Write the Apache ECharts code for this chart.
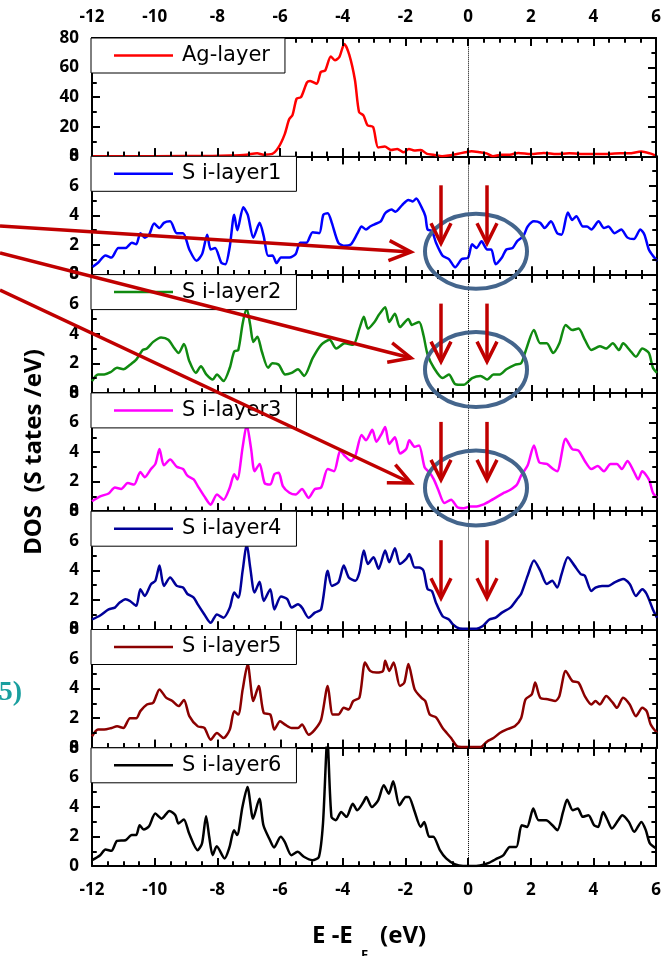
<!DOCTYPE html>
<html>
<head>
<meta charset="utf-8">
<title>Layer-resolved DOS</title>
<script src="https://cdn.jsdelivr.net/npm/echarts@6/dist/echarts.min.js"></script>
<style>
  html, body { margin: 0; padding: 0; background: #fff; }
  #chart { width: 664px; height: 956px; }
</style>
</head>
<body>
<div id="chart"></div>
<script>
// Energy axis (E - E_F, eV) and per-panel y ranges
const energyMin = -12;
const energyMax = 6;
const energyStep = 2;

const panelNames = ['Ag-layer', 'S i-layer1', 'S i-layer2', 'S i-layer3', 'S i-layer4', 'S i-layer5', 'S i-layer6'];
const panelColors = ['#ff0000', '#0000ff', '#108a10', '#ff00ff', '#000099', '#8b0000', '#000000'];
const panelYMax = [80, 8, 8, 8, 8, 8, 8];
const panelYStep = [20, 2, 2, 2, 2, 2, 2];

// Density of states, [energy, states/eV]
const agLayer = [[-12,0],[-10,0.1],[-8.15,0.2],[-7.61,0.5],[-7.07,1.1],[-6.73,2],[-6.53,1.1],[-6.25,1.6],[-6.05,6],[-5.85,15],[-5.71,25],[-5.6,28],[-5.47,39],[-5.33,40],[-5.14,50],[-5.04,51],[-4.83,49],[-4.7,57],[-4.56,58],[-4.38,67.5],[-4.25,65],[-4.11,67],[-3.95,76],[-3.79,68.6],[-3.61,51.6],[-3.48,30],[-3.34,27.7],[-3.21,21],[-3.03,19.8],[-2.87,6],[-2.66,6.6],[-2.46,4.3],[-2.26,5],[-2.05,2.7],[-1.89,5],[-1.72,3.9],[-1.51,4.3],[-1.31,1.6],[-1.11,1.1],[-0.83,0],[-0.63,0.5],[-0.36,1.6],[-0.09,2.7],[0.11,3.4],[0.38,2.7],[0.59,2],[0.79,0],[1.06,1.1],[1.33,1.1],[1.6,2.3],[2.01,1.6],[2.42,2.3],[2.82,1.6],[3.23,2],[3.77,1.6],[4.31,1.6],[4.86,2],[5.13,2],[5.53,3.2],[5.8,2],[6,0.5]];

const siLayer1 = [[-12,0.5],[-11.81,0.8],[-11.57,1.3],[-11.38,1.15],[-11.16,1.8],[-10.93,1.8],[-10.73,2.15],[-10.59,2.05],[-10.46,2.8],[-10.32,2.5],[-10.18,2.7],[-10.02,3.45],[-9.85,3.15],[-9.71,3.5],[-9.51,3.6],[-9.3,2.8],[-9.1,2.8],[-8.9,1.7],[-8.67,0.93],[-8.49,1.4],[-8.33,2.7],[-8.22,1.7],[-8.08,1.8],[-7.88,0.8],[-7.75,0.7],[-7.61,1.9],[-7.47,4.05],[-7.37,3.0],[-7.18,4.55],[-7.04,4.05],[-6.86,2.5],[-6.66,3.5],[-6.53,2.6],[-6.39,1.27],[-6.25,1.3],[-6.12,0.78],[-5.98,1.15],[-5.71,1.15],[-5.51,1.4],[-5.37,2.15],[-5.17,2.15],[-4.97,2.87],[-4.76,2.8],[-4.63,4.05],[-4.49,4.15],[-4.36,3.5],[-4.15,2.15],[-3.95,1.95],[-3.75,2.05],[-3.54,2.8],[-3.41,3.25],[-3.27,3.05],[-3.14,3.25],[-3.0,3.4],[-2.8,3.6],[-2.66,4.15],[-2.46,4.4],[-2.33,4.25],[-2.12,4.7],[-1.92,5.05],[-1.78,4.95],[-1.67,5.15],[-1.51,4.6],[-1.38,3.95],[-1.31,3.05],[-1.17,2.95],[-1.04,2.15],[-0.83,1.27],[-0.63,1.05],[-0.43,0.5],[-0.22,1.05],[-0.02,1.15],[0.11,2.05],[0.25,1.8],[0.41,2.25],[0.59,1.7],[0.72,1.7],[0.86,0.7],[1.06,1.15],[1.2,1.7],[1.4,1.8],[1.54,2.25],[1.74,2.6],[1.88,3.25],[2.08,3.6],[2.28,3.5],[2.42,3.15],[2.62,3.6],[2.82,2.8],[2.96,2.7],[3.16,4.2],[3.3,3.7],[3.43,3.95],[3.64,3.25],[3.77,3.25],[3.91,3.05],[4.14,3.6],[4.31,3.15],[4.45,3.25],[4.65,2.8],[4.86,3.05],[5.06,2.5],[5.26,2.4],[5.47,3.05],[5.6,2.7],[5.74,1.7],[5.87,1.27],[6,0.93]];

const siLayer2 = [[-12,0.8],[-11.81,1.25],[-11.61,1.25],[-11.41,1.4],[-11.2,1.7],[-11.0,1.6],[-10.79,1.9],[-10.59,2.25],[-10.39,2.9],[-10.25,3.0],[-10.05,3.45],[-9.8,3.75],[-9.57,3.6],[-9.37,3.0],[-9.24,2.7],[-9.07,3.3],[-8.9,2.15],[-8.69,1.35],[-8.53,1.8],[-8.36,1.25],[-8.15,0.9],[-8.02,1.25],[-7.81,0.8],[-7.61,1.7],[-7.47,2.8],[-7.34,2.9],[-7.2,4.7],[-7.07,5.7],[-6.96,4.6],[-6.86,3.45],[-6.73,3.8],[-6.59,2.8],[-6.39,1.7],[-6.25,2.0],[-6.05,1.9],[-5.85,1.25],[-5.64,1.35],[-5.44,1.6],[-5.24,1.15],[-4.97,2.35],[-4.7,3.25],[-4.43,3.6],[-4.22,3.0],[-3.95,3.35],[-3.68,3.25],[-3.48,4.35],[-3.34,5.15],[-3.21,4.35],[-3.0,4.8],[-2.87,5.25],[-2.66,5.8],[-2.53,4.8],[-2.35,5.35],[-2.19,4.45],[-1.92,5.0],[-1.81,4.6],[-1.58,4.8],[-1.44,3.9],[-1.31,2.6],[-1.11,1.7],[-0.83,1.0],[-0.63,1.25],[-0.43,0.6],[-0.16,0.55],[0.11,1.0],[0.38,1.15],[0.59,0.9],[0.79,1.25],[0.99,1.25],[1.2,1.6],[1.47,1.9],[1.67,2.0],[1.81,2.8],[2.08,4.25],[2.28,3.35],[2.49,3.35],[2.69,2.7],[2.89,3.35],[3.09,4.6],[3.3,4.25],[3.5,4.35],[3.7,3.6],[3.91,2.9],[4.18,3.15],[4.38,3.0],[4.59,3.35],[4.79,2.9],[4.92,3.35],[5.13,2.9],[5.33,2.45],[5.53,3.0],[5.74,2.7],[5.87,1.7],[6,1.35]];

const siLayer3 = [[-12,0.67],[-11.74,1.0],[-11.47,1.2],[-11.27,1.6],[-11.07,1.5],[-10.86,1.9],[-10.66,1.8],[-10.46,2.65],[-10.32,2.3],[-10.12,2.85],[-9.98,3.2],[-9.85,4.2],[-9.71,3.1],[-9.51,3.5],[-9.3,3.0],[-9.1,2.85],[-8.96,2.4],[-8.76,2.15],[-8.63,1.7],[-8.42,1.0],[-8.22,0.44],[-8.02,1.13],[-7.81,0.78],[-7.61,1.6],[-7.47,2.5],[-7.37,2.15],[-7.2,4.35],[-7.07,5.85],[-6.93,4.2],[-6.82,2.7],[-6.66,3.2],[-6.5,1.9],[-6.32,1.8],[-6.19,2.5],[-6.05,2.6],[-5.92,1.7],[-5.71,1.25],[-5.51,1.13],[-5.31,1.5],[-5.1,0.9],[-4.9,1.5],[-4.7,1.6],[-4.49,2.85],[-4.29,2.7],[-4.09,4.1],[-3.95,3.75],[-3.75,3.4],[-3.61,3.75],[-3.41,5.15],[-3.27,4.8],[-3.07,5.5],[-2.94,4.7],[-2.77,5.25],[-2.66,5.7],[-2.53,4.55],[-2.35,5.0],[-2.19,3.9],[-1.99,4.2],[-1.89,4.8],[-1.72,4.35],[-1.58,4.45],[-1.4,2.95],[-1.24,2.6],[-1.11,2.15],[-0.97,1.45],[-0.77,0.55],[-0.56,0.78],[-0.36,0.27],[-0.16,0.2],[0.05,0.32],[0.25,0.32],[0.45,0.44],[0.66,0.67],[0.93,1.0],[1.13,1.25],[1.33,1.45],[1.54,1.8],[1.67,2.4],[1.88,3.1],[2.08,4.45],[2.25,3.3],[2.49,3.2],[2.69,2.85],[2.82,2.7],[3.09,4.9],[3.3,4.2],[3.5,4.1],[3.7,3.4],[3.91,2.85],[4.11,3.05],[4.31,2.7],[4.52,3.2],[4.72,3.2],[4.88,2.85],[5.06,3.4],[5.26,2.7],[5.4,2.15],[5.53,2.7],[5.74,2.15],[5.87,1.25],[6,0.9]];

const siLayer4 = [[-12,0.68],[-11.74,0.95],[-11.47,1.36],[-11.27,1.48],[-11.13,1.8],[-10.93,2.05],[-10.79,1.93],[-10.59,1.6],[-10.46,2.73],[-10.32,2.27],[-10.12,3.07],[-9.98,3.3],[-9.85,4.32],[-9.71,2.95],[-9.51,3.52],[-9.3,2.95],[-9.1,2.84],[-8.96,2.4],[-8.76,2.16],[-8.63,1.7],[-8.42,1.02],[-8.22,0.45],[-8.02,1.02],[-7.81,0.8],[-7.61,1.48],[-7.47,2.5],[-7.34,2.16],[-7.2,3.98],[-7.07,5.8],[-6.96,4.2],[-6.82,2.5],[-6.66,3.23],[-6.53,1.93],[-6.32,2.73],[-6.19,1.36],[-5.98,2.23],[-5.78,2.05],[-5.64,1.48],[-5.44,1.7],[-5.31,1.48],[-5.1,0.8],[-4.9,1.14],[-4.7,1.36],[-4.49,3.98],[-4.36,2.95],[-4.15,3.18],[-3.98,4.32],[-3.82,3.52],[-3.61,3.3],[-3.48,3.86],[-3.34,5.34],[-3.21,4.43],[-3.03,4.89],[-2.87,4.1],[-2.66,5.34],[-2.53,4.55],[-2.35,5.5],[-2.19,4.43],[-1.99,4.77],[-1.89,5.1],[-1.72,4.2],[-1.58,4.2],[-1.44,3.98],[-1.31,2.73],[-1.17,2.6],[-1.04,1.8],[-0.83,0.9],[-0.63,0.68],[-0.5,0.34],[-0.29,0.07],[-0.02,0.05],[0.25,0.05],[0.45,0.23],[0.66,0.68],[0.86,0.8],[1.06,1.14],[1.33,1.48],[1.54,2.05],[1.67,2.4],[1.88,3.64],[2.08,4.66],[2.28,3.98],[2.49,3.07],[2.66,3.3],[2.82,2.84],[2.96,3.75],[3.16,4.89],[3.37,4.32],[3.57,3.75],[3.7,3.64],[3.91,2.6],[4.04,2.84],[4.25,2.95],[4.45,2.95],[4.65,3.18],[4.92,3.41],[5.13,3.07],[5.33,2.27],[5.53,2.73],[5.67,2.4],[5.87,1.36],[6,0.8]];

const siLayer5 = [[-12,0.77],[-11.81,1.23],[-11.61,1.23],[-11.38,1.34],[-11.2,1.45],[-11.0,1.34],[-10.79,2.0],[-10.59,2.0],[-10.46,2.48],[-10.25,2.93],[-10.05,3.05],[-9.85,3.95],[-9.64,3.39],[-9.44,3.16],[-9.24,2.82],[-9.07,3.23],[-8.9,2.14],[-8.63,1.45],[-8.42,1.34],[-8.22,0.55],[-8.02,1.0],[-7.81,0.66],[-7.61,1.23],[-7.47,2.48],[-7.34,2.25],[-7.2,3.95],[-7.04,5.66],[-6.86,3.16],[-6.69,4.18],[-6.53,2.36],[-6.32,2.25],[-6.19,1.23],[-6.01,1.8],[-5.85,1.57],[-5.64,1.34],[-5.44,1.34],[-5.31,1.57],[-5.1,0.89],[-4.9,1.23],[-4.7,1.91],[-4.49,4.18],[-4.33,2.25],[-4.15,2.25],[-3.98,2.7],[-3.82,2.59],[-3.68,3.16],[-3.48,3.39],[-3.3,5.77],[-3.14,5.2],[-2.94,5.09],[-2.73,5.2],[-2.66,5.89],[-2.53,5.2],[-2.39,5.77],[-2.19,4.18],[-2.05,4.41],[-1.92,5.66],[-1.72,3.95],[-1.51,3.39],[-1.38,3.16],[-1.24,2.25],[-1.04,2.05],[-0.83,1.34],[-0.56,0.66],[-0.36,0.09],[-0.16,0.05],[0.11,0.05],[0.38,0.05],[0.59,0.43],[0.79,0.66],[0.99,1.0],[1.2,1.23],[1.47,1.45],[1.67,2.0],[1.81,3.27],[2.01,3.61],[2.12,4.41],[2.28,3.39],[2.55,3.27],[2.76,3.16],[2.89,3.5],[3.09,5.2],[3.3,4.52],[3.5,4.41],[3.7,3.5],[3.91,2.93],[4.04,3.16],[4.18,2.93],[4.38,3.5],[4.59,3.05],[4.72,2.7],[4.92,3.39],[5.13,2.93],[5.33,2.14],[5.53,2.7],[5.67,2.48],[5.8,1.57],[6,1.0]];

const siLayer6 = [[-12,0.4],[-11.74,0.74],[-11.57,1.12],[-11.38,1.03],[-11.2,1.7],[-10.93,1.75],[-10.73,2.1],[-10.59,2.1],[-10.48,2.76],[-10.35,2.47],[-10.18,2.7],[-9.98,3.55],[-9.78,3.21],[-9.53,3.73],[-9.34,3.44],[-9.24,2.88],[-9.07,3.15],[-8.9,2.2],[-8.63,1.08],[-8.49,1.53],[-8.36,3.37],[-8.26,1.98],[-8.15,0.74],[-8.02,1.35],[-7.77,0.52],[-7.61,1.3],[-7.47,2.43],[-7.37,2.1],[-7.2,4.0],[-7.04,5.35],[-6.86,3.21],[-6.66,4.56],[-6.53,2.76],[-6.32,1.75],[-6.19,1.26],[-5.98,1.98],[-5.85,1.64],[-5.64,0.74],[-5.44,0.97],[-5.24,0.63],[-4.97,0.4],[-4.76,0.63],[-4.63,2.88],[-4.49,8.6],[-4.36,3.33],[-4.22,3.1],[-4.05,3.66],[-3.88,3.33],[-3.68,4.22],[-3.54,3.78],[-3.34,4.33],[-3.25,4.67],[-3.07,4.0],[-2.87,4.45],[-2.69,5.46],[-2.53,4.9],[-2.39,5.73],[-2.19,4.11],[-1.99,4.67],[-1.89,4.67],[-1.72,3.78],[-1.51,2.65],[-1.4,2.99],[-1.24,1.98],[-1.11,1.98],[-0.9,1.08],[-0.7,0.52],[-0.43,0.13],[-0.16,0],[0.11,0],[0.38,0.04],[0.66,0.22],[0.93,0.52],[1.13,0.74],[1.33,1.3],[1.54,1.3],[1.71,2.76],[1.88,2.65],[2.08,3.89],[2.25,3.1],[2.49,3.1],[2.69,2.76],[2.85,2.43],[3.03,3.66],[3.16,4.49],[3.34,3.78],[3.5,3.89],[3.66,3.33],[3.84,3.44],[4.02,2.76],[4.15,2.65],[4.31,3.66],[4.45,3.1],[4.59,2.54],[4.79,3.1],[4.92,3.44],[5.13,2.99],[5.3,2.32],[5.53,2.99],[5.67,2.43],[5.8,1.53],[6,1.2]];

const panelData = [agLayer, siLayer1, siLayer2, siLayer3, siLayer4, siLayer5, siLayer6];

// Layout of the stacked panels (px)
const plotLeft = 92;
const plotWidth = 565;
const firstTop = 38;
const panelHeight = 118.3;
const panelTops = panelData.map((_, i) => firstTop + i * panelHeight);

const majorLen = 8;
const minorLen = 4.5;

const tickFont = () => ({ fontFamily: 'Noto Sans', fontWeight: 'bold', fontSize: 17, color: '#000' });
const axisLineStyle = () => ({ show: true, onZero: false, lineStyle: { color: '#000', width: 2 } });
const tickStyle = () => ({ show: true, inside: true, length: majorLen, lineStyle: { color: '#000', width: 2 } });
const minorStyle = (n) => ({ show: true, splitNumber: n, length: minorLen, lineStyle: { color: '#000', width: 2 } });

function energyAxis(i, position, showLabels, margin) {
  return {
    type: 'value', gridIndex: i, position: position,
    min: energyMin, max: energyMax, interval: energyStep,
    axisLine: axisLineStyle(), axisTick: tickStyle(), minorTick: minorStyle(4),
    splitLine: { show: false }, minorSplitLine: { show: false },
    axisLabel: Object.assign({ show: showLabels, margin: margin, showMinLabel: true, showMaxLabel: true }, tickFont())
  };
}
function dosAxis(i, position, showLabels) {
  return {
    type: 'value', gridIndex: i, position: position,
    min: 0, max: panelYMax[i], interval: panelYStep[i],
    axisLine: axisLineStyle(), axisTick: tickStyle(), minorTick: minorStyle(2),
    splitLine: { show: false }, minorSplitLine: { show: false },
    axisLabel: Object.assign({ show: showLabels, margin: 13, showMinLabel: true, showMaxLabel: true }, tickFont())
  };
}

// Frame tick marks of one panel as markLine segments in data units
function frameTicks(i) {
  const yMax = panelYMax[i];
  const yPerPx = yMax / panelHeight;
  const xPerPx = (energyMax - energyMin) / plotWidth;
  const solid = (w) => ({ type: 'solid', color: '#000', width: w });
  const segs = [];
  const xMinor = energyStep / 4;
  const nx = Math.round((energyMax - energyMin) / xMinor);
  for (let k = 0; k <= nx; k++) {
    const v = energyMin + k * xMinor;
    const len = ((k % 4 === 0) ? majorLen : minorLen) * yPerPx;
    segs.push([{ coord: [v, 0], lineStyle: solid(2) }, { coord: [v, len] }]);
    segs.push([{ coord: [v, yMax], lineStyle: solid(2) }, { coord: [v, yMax - len] }]);
  }
  const yMinor = panelYStep[i] / 2;
  const ny = Math.round(yMax / yMinor);
  for (let k = 0; k <= ny; k++) {
    const v = k * yMinor;
    const len = ((k % 2 === 0) ? majorLen : minorLen) * xPerPx;
    segs.push([{ coord: [energyMin, v], lineStyle: solid(2) }, { coord: [energyMin + len, v] }]);
    segs.push([{ coord: [energyMax, v], lineStyle: solid(2) }, { coord: [energyMax - len, v] }]);
  }
  return segs;
}

const grids = [], xAxes = [], yAxes = [], series = [], legends = [];
const last = panelData.length - 1;

panelData.forEach((data, i) => {
  grids.push({ left: plotLeft, width: plotWidth, top: panelTops[i], height: panelHeight });

  xAxes.push(energyAxis(i, 'bottom', i === last, 16));
  xAxes.push(energyAxis(i, 'top', i === 0, 12));
  yAxes.push(dosAxis(i, 'left', true));
  yAxes.push(dosAxis(i, 'right', false));

  series.push({
    name: panelNames[i], type: 'line', xAxisIndex: 2 * i, yAxisIndex: 2 * i,
    data: data, smooth: 0.25, symbol: 'none', showSymbol: false,
    lineStyle: { color: panelColors[i], width: 2.5 }, itemStyle: { color: panelColors[i] },
    z: 3,
    markLine: {
      silent: true, symbol: 'none', animation: false, clip: false,
      label: { show: false }, emphasis: { disabled: true },
      lineStyle: { type: 'dotted', color: '#000', width: 1 },
      data: [{ xAxis: 0 }].concat(frameTicks(i))
    }
  });

  legends.push({
    data: [panelNames[i]], left: plotLeft - 1, top: panelTops[i],
    orient: 'horizontal', selectedMode: false,
    backgroundColor: '#fff', borderColor: '#000', borderWidth: 1, borderRadius: 0,
    padding: [5, 15, 5, 23], icon: 'rect', itemWidth: 59, itemHeight: 2.5, itemGap: 0,
    itemStyle: { color: panelColors[i], borderWidth: 0 },
    textStyle: { fontFamily: 'DejaVu Sans', fontSize: 21, color: '#000', lineHeight: 25, padding: [0, 0, 0, 4] },
    z: 6
  });
});

// Annotation overlay: pointer arrows, gap markers and circled regions
const arrowRed = '#c00000';
const ringBlue = '#44658c';
const graphics = [];

function arrowHead(sx, sy, tx, ty, len, half) {
  const dx = tx - sx, dy = ty - sy, d = Math.hypot(dx, dy);
  const ux = dx / d, uy = dy / d;
  const bx = tx - ux * len, by = ty - uy * len;
  return [[bx - uy * half, by + ux * half], [tx, ty], [bx + uy * half, by - ux * half]];
}
function addArrow(sx, sy, tx, ty, len, half) {
  graphics.push({ type: 'line', z: 100, shape: { x1: sx, y1: sy, x2: tx, y2: ty },
    style: { stroke: arrowRed, lineWidth: 3.5 } });
  graphics.push({ type: 'polyline', z: 100, shape: { points: arrowHead(sx, sy, tx, ty, len, half) },
    style: { stroke: arrowRed, lineWidth: 3.5, fill: null } });
}

const pointerArrows = [[0, 226, 411, 252], [0, 253, 411, 358], [0, 290, 411, 483]];
pointerArrows.forEach(a => addArrow(a[0], a[1], a[2], a[3], 22, 10));

const gapArrowX = [441, 487];
[1, 2, 3, 4].forEach(p => {
  gapArrowX.forEach(x => addArrow(x, panelTops[p] + 29, x, panelTops[p] + 87, 20, 10));
});

[1, 2, 3].forEach(p => {
  graphics.push({ type: 'ellipse', z: 99, shape: { cx: 476, cy: panelTops[p] + 95, rx: 51, ry: 37.5 },
    style: { stroke: ringBlue, lineWidth: 4, fill: null } });
});

// Axis titles
graphics.push({ type: 'text', z: 50, x: 34, y: 452, rotation: Math.PI / 2,
  style: { text: 'DOS  (S tates /eV)', font: 'bold 24px "Noto Sans"', fill: '#000',
    textAlign: 'center', textVerticalAlign: 'middle', align: 'center', verticalAlign: 'middle' } });
graphics.push({ type: 'text', z: 50, x: 312, y: 936,
  style: { text: 'E -E', font: 'bold 24px "Noto Sans"', fill: '#000',
    textAlign: 'left', textVerticalAlign: 'middle', align: 'left', verticalAlign: 'middle' } });
graphics.push({ type: 'text', z: 50, x: 361, y: 955,
  style: { text: 'F', font: 'bold 13px "Noto Sans"', fill: '#000',
    textAlign: 'left', textVerticalAlign: 'middle', align: 'left', verticalAlign: 'middle' } });
graphics.push({ type: 'text', z: 50, x: 380, y: 936,
  style: { text: '(eV)', font: 'bold 24px "Noto Sans"', fill: '#000',
    textAlign: 'left', textVerticalAlign: 'middle', align: 'left', verticalAlign: 'middle' } });

// Panel tag at the left margin
graphics.push({ type: 'text', z: 50, x: 22, y: 693,
  style: { text: '(5)', font: 'bold 28px "Liberation Serif"', fill: '#1a9f9f',
    textAlign: 'right', textVerticalAlign: 'middle', align: 'right', verticalAlign: 'middle' } });

const chart = echarts.init(document.getElementById('chart'), null, { renderer: 'canvas' });
chart.setOption({
  backgroundColor: '#fff',
  animation: false,
  grid: grids,
  xAxis: xAxes,
  yAxis: yAxes,
  legend: legends,
  series: series,
  graphic: graphics
});
</script>
</body>
</html>
